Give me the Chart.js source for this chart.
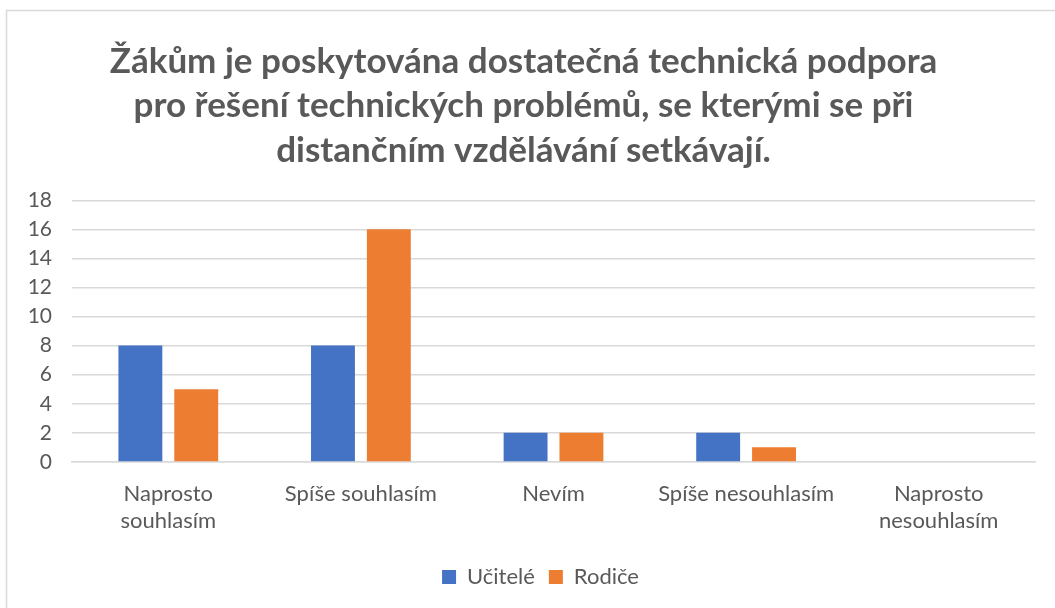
<!DOCTYPE html>
<html><head><meta charset="utf-8">
<script src="https://cdn.jsdelivr.net/npm/chart.js@4"></script>
<style>html,body{margin:0;padding:0;background:#fff;}#wrap{width:1055px;height:608px;position:relative;}</style>
</head><body><div id="wrap"><canvas id="c" width="1055" height="608"></canvas></div>
<script>
const categories = [["Naprosto","souhlasím"], "Spíše souhlasím", "Nevím", "Spíše nesouhlasím", ["Naprosto","nesouhlasím"]];
const seriesNames = ["Učitelé", "Rodiče"];
const ucitele = [8, 8, 2, 2, 0];
const rodice = [5, 16, 2, 1, 0];
const titleLines = ["Žákům je poskytována dostatečná technická podpora", "pro řešení technických problémů, se kterými se při", "distančním vzdělávání setkávají."];
const yTicks = {min: 0, max: 18, step: 2};

const borderPlugin = {
  id: 'frame',
  beforeDraw(chart) {
    const ctx = chart.ctx;
    ctx.save();
    ctx.fillStyle = '#fff';
    ctx.fillRect(0, 0, chart.width, chart.height);
    ctx.strokeStyle = '#d9d9d9';
    ctx.lineWidth = 1.5;
    ctx.beginPath();
    ctx.moveTo(6.5, chart.height);
    ctx.lineTo(6.5, 10.5);
    ctx.lineTo(chart.width, 10.5);
    ctx.stroke();
    ctx.restore();
  }
};
const legendShift = {
  id: 'legendShift',
  afterLayout(chart) {
    if (chart.legend) { chart.legend.left += 17; chart.legend.right += 17; }
  }
};

const FONT = 'Lato';
new Chart(document.getElementById('c'), {
  type: 'bar',
  data: {
    labels: categories,
    datasets: [
      {label: seriesNames[0], data: ucitele, backgroundColor: '#4472C4', barPercentage: 0.786, categoryPercentage: 0.58},
      {label: seriesNames[1], data: rodice, backgroundColor: '#ED7D31', barPercentage: 0.786, categoryPercentage: 0.58}
    ]
  },
  options: {
    responsive: false,
    animation: false,
    devicePixelRatio: 1,
    layout: {padding: {left: 12, right: 20, top: 40, bottom: 10}},
    plugins: {
      title: {
        display: true, text: titleLines, color: '#595959',
        font: {family: FONT, size: 35, weight: 'bold', lineHeight: 1.26},
        padding: {top: 0, bottom: 28}
      },
      legend: {
        position: 'bottom',
        labels: {color: '#595959', font: {family: FONT, size: 22}, boxWidth: 14, boxHeight: 14, padding: 14}
      },
      tooltip: {enabled: false}
    },
    scales: {
      x: {
        grid: {display: false, drawTicks: false},
        border: {color: '#d9d9d9', width: 1.5},
        ticks: {color: '#595959', font: {family: FONT, size: 22, lineHeight: 1.23}, padding: 18, maxRotation: 0, autoSkip: false}
      },
      y: {
        min: yTicks.min, max: yTicks.max,
        afterFit(s) { s.width = 60; },
        grid: {color: '#d9d9d9', drawTicks: false, lineWidth: 1.5},
        border: {display: false},
        ticks: {stepSize: yTicks.step, autoSkip: false, color: '#595959', font: {family: FONT, size: 21}, padding: 20}
      }
    }
  },
  plugins: [borderPlugin, legendShift]
});
</script></body></html>
